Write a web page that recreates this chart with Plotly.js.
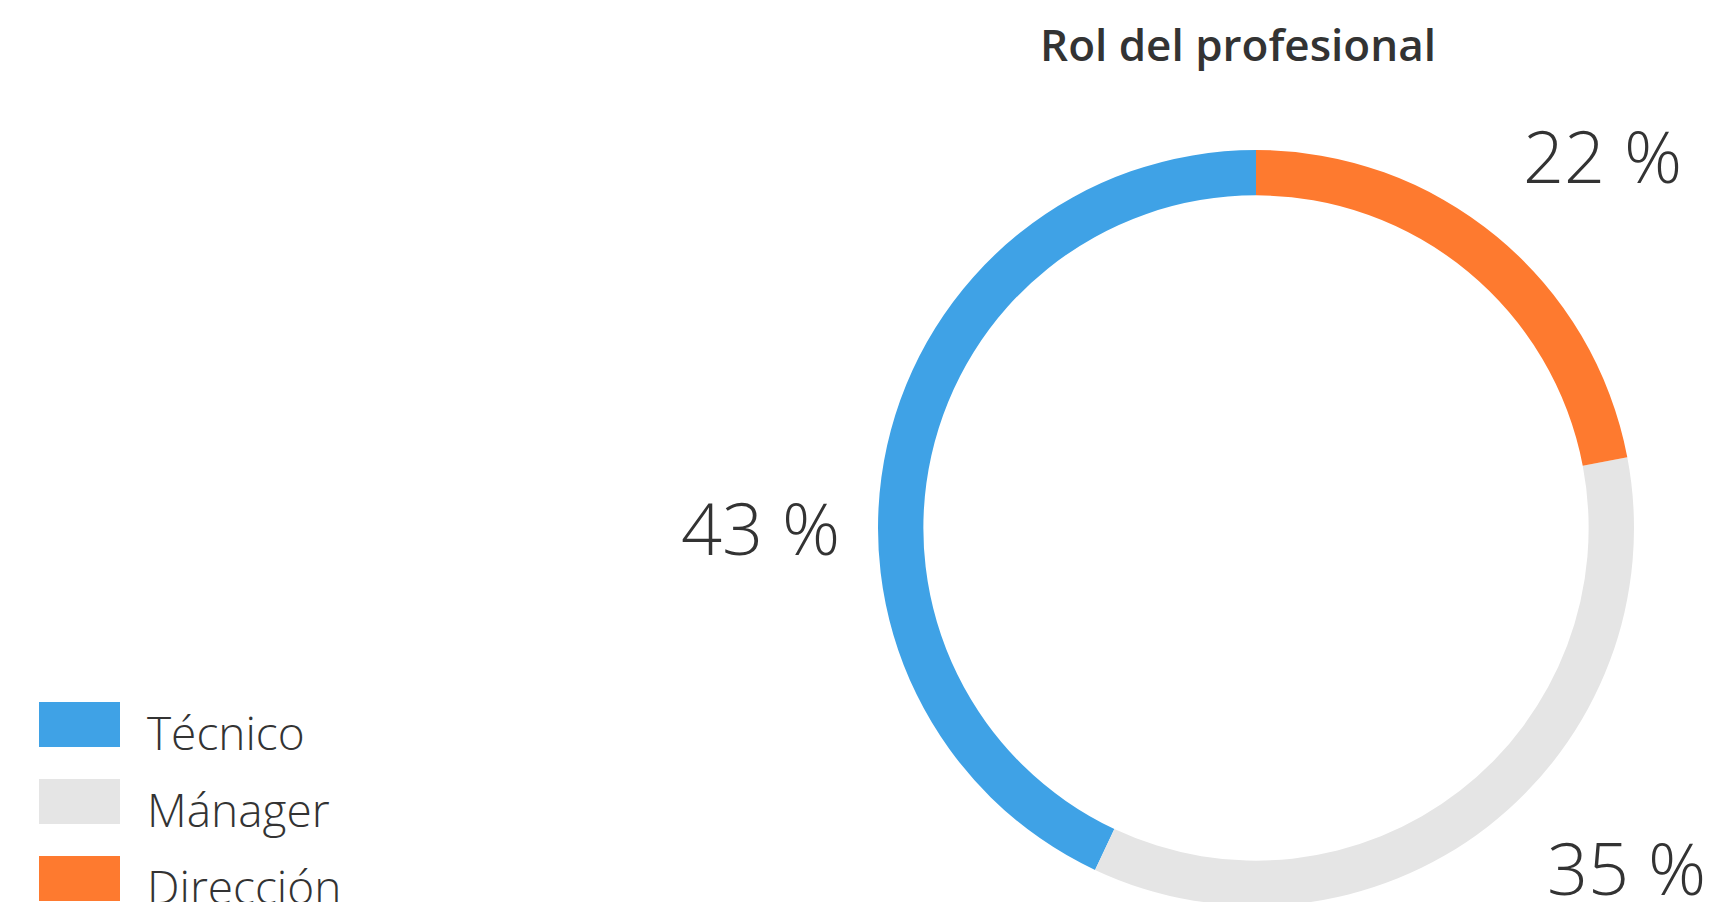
<!DOCTYPE html>
<html>
<head>
<meta charset="utf-8">
<script src="https://cdn.plot.ly/plotly-3.0.1.min.js"></script>
<style>
  html, body { margin: 0; padding: 0; overflow: hidden; background: #ffffff; }
  #chart { width: 1711px; height: 1000px; }
</style>
</head>
<body>
<div id="chart"></div>
<script>
// ---- data ----
const categories = ['Técnico', 'Mánager', 'Dirección'];
const values = [43, 35, 22];
const colors = ['#3FA2E6', '#E5E5E5', '#FE7A2F'];
const chartTitle = 'Rol del profesional';

// ---- layout constants (pixels) ----
const W = 1711, H = 1000;
const px = x => x / W;
const py = y => 1 - y / H;

// pie box: centre (1256, 528), outer radius 378
const cx = 1256, cy = 528, R = 378;

const total = values.reduce((a, b) => a + b, 0);

const trace = {
  type: 'pie',
  labels: categories,
  values: values,
  marker: { colors: colors, line: { width: 0 } },
  hole: 0.88,
  sort: false,
  direction: 'counterclockwise',
  // first slice starts at 12 o'clock and runs counter-clockwise
  rotation: -360 * values[0] / total,
  textinfo: 'none',
  hoverinfo: 'label+percent',
  showlegend: false,
  domain: { x: [px(cx - R), px(cx + R)], y: [py(cy + R), py(cy - R)] }
};

// value label positions (pixel centres), same order as categories
const labelPos = [[760, 527], [1626, 867], [1602, 155]];

const labelFont = { family: '"Open Sans", sans-serif', size: 72, weight: 300, color: '#333333' };
const legendFont = { family: '"Open Sans", sans-serif', size: 46, weight: 300, color: '#333333' };

const annotations = [];
categories.forEach((c, i) => {
  annotations.push({
    xref: 'paper', yref: 'paper',
    x: px(labelPos[i][0]), y: py(labelPos[i][1]),
    xanchor: 'center', yanchor: 'middle',
    showarrow: false,
    text: values[i] + ' %',
    font: labelFont
  });
});

// custom legend (large swatches)
const shapes = [];
const legTop = 702, legStep = 77, swW = 81, swH = 45, legX = 39;
categories.forEach((c, i) => {
  const y0 = legTop + i * legStep;
  shapes.push({
    type: 'rect', xref: 'paper', yref: 'paper',
    x0: px(legX), x1: px(legX + swW), y0: py(y0 + swH), y1: py(y0),
    fillcolor: colors[i], line: { width: 0 }
  });
  annotations.push({
    xref: 'paper', yref: 'paper',
    x: px(145), y: py(y0 + 30),
    xanchor: 'left', yanchor: 'middle',
    showarrow: false,
    text: c,
    font: legendFont
  });
});

const layout = {
  width: W, height: H,
  margin: { l: 0, r: 0, t: 0, b: 0, pad: 0 },
  paper_bgcolor: '#ffffff',
  plot_bgcolor: '#ffffff',
  title: {
    text: chartTitle,
    x: px(1238), xanchor: 'center', xref: 'container',
    y: 1 - 46 / H, yanchor: 'middle', yref: 'container',
    font: { family: '"Open Sans", sans-serif', size: 44, weight: 600, color: '#333333' }
  },
  showlegend: false,
  annotations: annotations,
  shapes: shapes
};

Plotly.newPlot('chart', [trace], layout, { displayModeBar: false, staticPlot: true });
</script>
</body>
</html>
